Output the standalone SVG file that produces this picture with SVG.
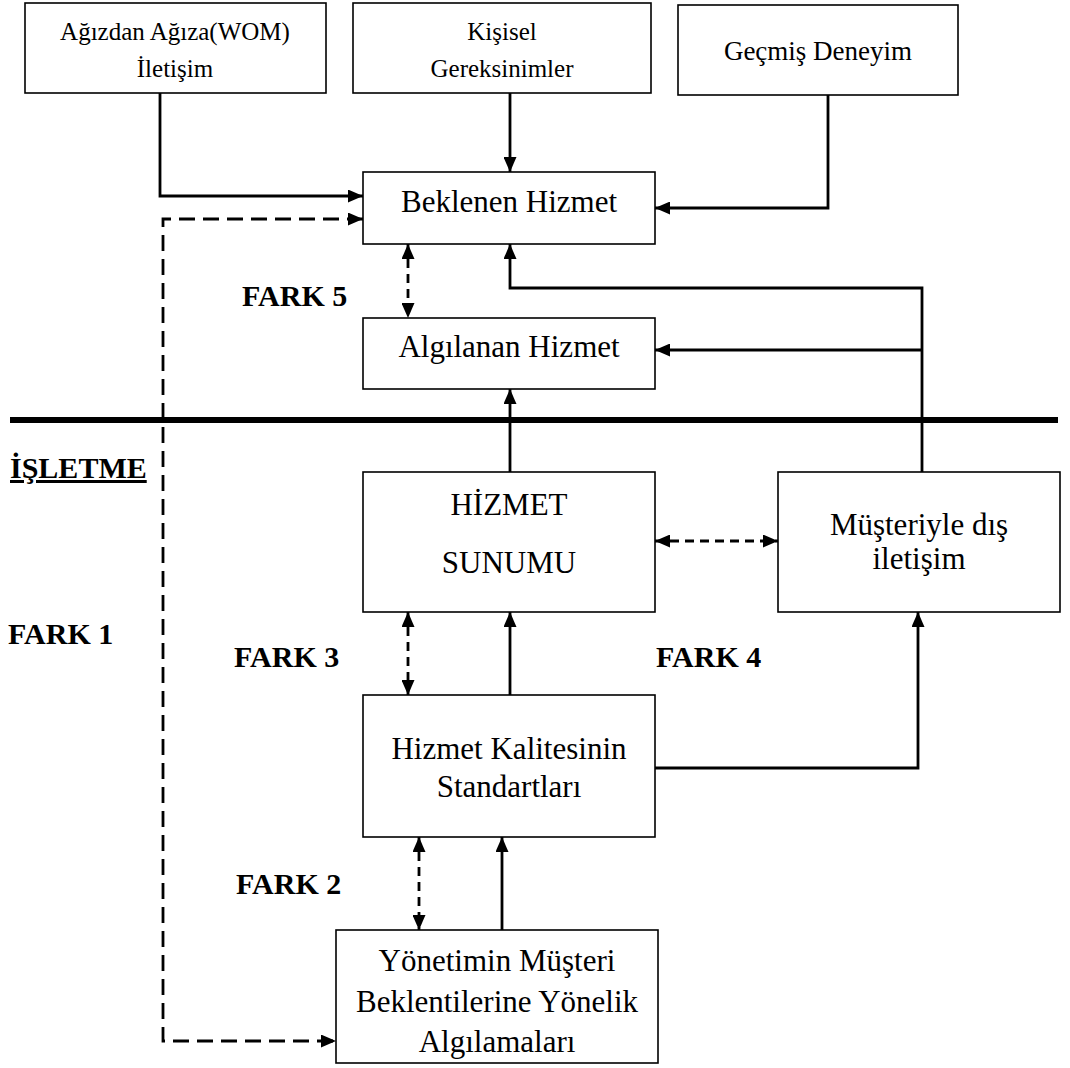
<svg xmlns="http://www.w3.org/2000/svg" width="1070" height="1068" viewBox="0 0 1070 1068">
<style>
.box{fill:#fff;stroke:#000;stroke-width:1.6}
.t{font-family:'Liberation Serif','Times New Roman',Tinos,'DejaVu Serif',serif;fill:#000;text-anchor:middle}
.ts{font-size:25px}
.tm{font-size:31px}
.lab{font-family:'Liberation Serif','Times New Roman',Tinos,'DejaVu Serif',serif;font-weight:bold;font-size:30px;fill:#000}
.c{fill:none;stroke:#000;stroke-width:2.8}
.d{fill:none;stroke:#000;stroke-width:2.8;stroke-dasharray:16 8}
.ds{fill:none;stroke:#000;stroke-width:2.8;stroke-dasharray:9 6}
</style>
<defs>
<marker id="ah" viewBox="0 0 15 13" refX="15" refY="6.5" markerWidth="15" markerHeight="13" markerUnits="userSpaceOnUse" orient="auto-start-reverse">
<path d="M0,0 L15,6.5 L0,13 z" fill="#000"/>
</marker>
</defs>
<rect width="1070" height="1068" fill="#fff"/>
<line x1="10" y1="420" x2="1058" y2="420" stroke="#000" stroke-width="6"/>
<g id="connectors">
<path class="c" d="M160,93 V196 H363" marker-end="url(#ah)"/>
<path class="c" d="M510,93 V172" marker-end="url(#ah)"/>
<path class="c" d="M828,95 V208 H655" marker-end="url(#ah)"/>
<path class="d" d="M363,219 H163 V1041 H336" marker-start="url(#ah)" marker-end="url(#ah)"/>
<path class="ds" d="M408,244 V318" marker-start="url(#ah)" marker-end="url(#ah)"/>
<path class="c" d="M922,472 V288 H510 V244" marker-end="url(#ah)"/>
<path class="c" d="M922,350 H655" marker-end="url(#ah)"/>
<path class="c" d="M510,472 V389" marker-end="url(#ah)"/>
<path class="ds" d="M655,541 H778" marker-start="url(#ah)" marker-end="url(#ah)"/>
<path class="ds" d="M408,612 V695" marker-start="url(#ah)" marker-end="url(#ah)"/>
<path class="c" d="M510,695 V612" marker-end="url(#ah)"/>
<path class="c" d="M655,768 H918 V612" marker-end="url(#ah)"/>
<path class="ds" d="M419,837 V930" marker-start="url(#ah)" marker-end="url(#ah)"/>
<path class="c" d="M502,930 V837" marker-end="url(#ah)"/>
</g>
<g id="wom">
<rect class="box" x="25" y="3" width="301" height="90"/>
<text class="t ts" x="175" y="40">Ağızdan Ağıza(WOM)</text>
<text class="t ts" x="175" y="77">İletişim</text>
</g>
<g id="kisisel">
<rect class="box" x="353" y="3" width="298" height="90"/>
<text class="t ts" x="502" y="40">Kişisel</text>
<text class="t ts" x="502" y="77">Gereksinimler</text>
</g>
<g id="gecmis">
<rect class="box" x="678" y="5" width="280" height="90"/>
<text class="t" x="818" y="60" font-size="27">Geçmiş Deneyim</text>
</g>
<g id="beklenen">
<rect class="box" x="363" y="172" width="292" height="72"/>
<text class="t tm" x="509" y="212">Beklenen Hizmet</text>
</g>
<g id="algilanan">
<rect class="box" x="363" y="318" width="292" height="71"/>
<text class="t tm" x="509" y="357">Algılanan Hizmet</text>
</g>
<g id="sunum">
<rect class="box" x="363" y="472" width="292" height="140"/>
<text class="t tm" x="509" y="515">HİZMET</text>
<text class="t tm" x="509" y="573">SUNUMU</text>
</g>
<g id="musteri">
<rect class="box" x="778" y="472" width="282" height="140"/>
<text class="t tm" x="919" y="535">Müşteriyle dış</text>
<text class="t tm" x="919" y="569">iletişim</text>
</g>
<g id="standart">
<rect class="box" x="363" y="695" width="292" height="142"/>
<text class="t tm" x="509" y="759">Hizmet Kalitesinin</text>
<text class="t tm" x="509" y="797">Standartları</text>
</g>
<g id="yonetim">
<rect class="box" x="336" y="930" width="322" height="133"/>
<text class="t tm" x="497" y="971">Yönetimin Müşteri</text>
<text class="t tm" x="497" y="1012">Beklentilerine Yönelik</text>
<text class="t tm" x="497" y="1052">Algılamaları</text>
</g>
<g id="labels">
<text class="lab" x="10" y="478" font-size="28" text-decoration="underline">İŞLETME</text>
<text class="lab" x="8" y="644">FARK 1</text>
<text class="lab" x="234" y="667">FARK 3</text>
<text class="lab" x="656" y="667">FARK 4</text>
<text class="lab" x="236" y="894">FARK 2</text>
<text class="lab" x="242" y="306">FARK 5</text>
</g>
</svg>
